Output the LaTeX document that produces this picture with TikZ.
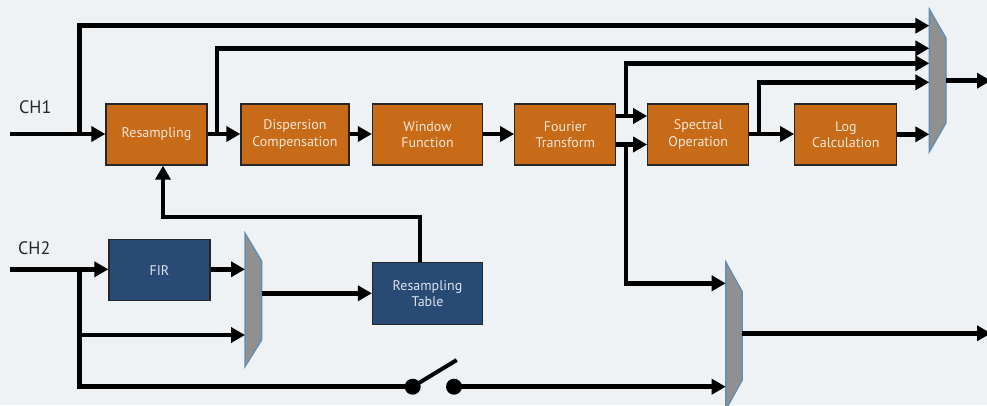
\documentclass[tikz,border=0pt]{standalone}
\usepackage{fontspec}
\setmainfont{PT Sans}
\usetikzlibrary{arrows.meta}
\definecolor{bg}{HTML}{EEF2F5}
\definecolor{orng}{HTML}{C86B19}
\definecolor{navy}{HTML}{284A74}
\definecolor{muxgray}{HTML}{909090}
\definecolor{muxedge}{HTML}{5B8DB8}
\definecolor{otext}{HTML}{F6E6D6}
\definecolor{btext}{HTML}{DDE4EE}
\begin{document}
\begin{tikzpicture}[x=1pt,y=-1pt,
  obox/.style={draw=black!85, line width=1.3pt, fill=orng, text=otext,
    minimum height=61pt, inner sep=0pt, align=center,
    font=\fontsize{14}{16.5}\selectfont},
  bbox/.style={obox, fill=navy, text=btext},
  wire/.style={line width=4.5pt, black},
  arr/.style={wire, -{Triangle[length=14pt,width=15pt]}},
  mux/.style={fill=muxgray, draw=muxedge, line width=1.2pt},
  lbl/.style={font=\fontsize{18}{20}\selectfont, anchor=base west, inner sep=0pt, text=black!85}]
\fill[bg] (0,0) rectangle (987,405);
\useasboundingbox (0,0) rectangle (987,405);

% blocks
\node[obox, minimum width=101pt] (resamp) at (156.5,134.5) {Resampling};
\node[obox, minimum width=108pt] (disp) at (295,134.5) {Dispersion\\Compensation};
\node[obox, minimum width=110pt] (window) at (427.5,134.5) {Window\\Function};
\node[obox, minimum width=101pt] (fourier) at (565.3,134.5) {Fourier\\Transform};
\node[obox, minimum width=101pt] (spectral) at (698.3,134.5) {Spectral\\Operation};
\node[obox, minimum width=102pt] (log) at (845.8,134.5) {Log\\Calculation};
\node[bbox, minimum width=101pt, minimum height=61pt] (fir) at (159.5,270.3) {FIR};
\node[bbox, minimum width=110pt, minimum height=62pt] (rtable) at (427.5,293.7) {Resampling\\Table};

% labels
\node[lbl] (ch1) at (19,113) {CH1};
\node[lbl] (ch2) at (18,254) {CH2};

% multiplexers
\draw[mux] (929.3,9) -- (946,38) -- (946,123) -- (929.3,152) -- cycle;
\draw[mux] (245,233) -- (261.7,261) -- (261.7,340) -- (245,366.7) -- cycle;
\draw[mux] (725.7,261.7) -- (742.3,291.7) -- (742.3,380) -- (725.7,410) -- cycle;

% named points
\coordinate (ch1in) at (10,134);
\coordinate (j1) at (79.3,134);
\coordinate (j2) at (217,134);
\coordinate (j3) at (626,116);
\coordinate (j4) at (626,144.5);
\coordinate (j5) at (759,134);
\coordinate (m1a) at (929.3,25.7);
\coordinate (m1b) at (929.3,48.3);
\coordinate (m1c) at (929.3,63.3);
\coordinate (m1d) at (929.3,82.3);
\coordinate (m1e) at (929.3,134.3);
\coordinate (m1out) at (946,80.7);
\coordinate (out1) at (991,80.7);
\coordinate (ch2in) at (10,269.3);
\coordinate (k1) at (79.3,269.3);
\coordinate (m2a) at (245,269.3);
\coordinate (m2b) at (245,335);
\coordinate (m2out) at (261.7,293.3);
\coordinate (fb) at (163,217);
\coordinate (m3a) at (725.7,283.3);
\coordinate (m3b) at (725.7,386.7);
\coordinate (m3out) at (742.3,333.3);
\coordinate (out3) at (991,333.3);
\coordinate (sw1) at (412.7,386.7);
\coordinate (sw2) at (454,386.7);
\coordinate (lever) at (456.7,360);

% CH1 chain
\draw[arr] (ch1in) -- (resamp.west |- ch1in);
\draw[arr] (j1) |- (m1a);
\draw[arr] (resamp.east |- j2) -- (disp.west |- j2);
\draw[arr] (j2) |- (m1b);
\draw[arr] (disp.east |- j2) -- (window.west |- j2);
\draw[arr] (window.east |- j2) -- (fourier.west |- j2);
\draw[arr] (fourier.east |- j3) -- (spectral.west |- j3);
\draw[arr] (fourier.east |- j4) -- (spectral.west |- j4);
\draw[arr] (j3) |- (m1c);
\draw[arr] (j4) |- (m3a);
\draw[arr] (spectral.east |- j5) -- (log.west |- j5);
\draw[arr] (j5) |- (m1d);
\draw[arr] (log.east |- m1e) -- (m1e);
\draw[arr] (m1out) -- (out1);

% CH2 chain
\draw[arr] (ch2in) -- (fir.west |- ch2in);
\draw[wire] (k1) |- (sw1);
\draw[arr] (k1 |- m2b) -- (m2b);
\draw[arr] (fir.east |- m2a) -- (m2a);
\draw[arr] (m2out) -- (rtable.west |- m2out);
\draw[arr] (rtable.north -| 420,0) |- (fb) -- (resamp.south -| fb);

% switch
\fill (sw1) circle (8pt);
\fill (sw2) circle (8pt);
\draw[line width=4pt] (sw1) -- (lever);
\draw[arr] (sw2) -- (m3b);
\draw[arr] (m3out) -- (out3);
\end{tikzpicture}
\end{document}
